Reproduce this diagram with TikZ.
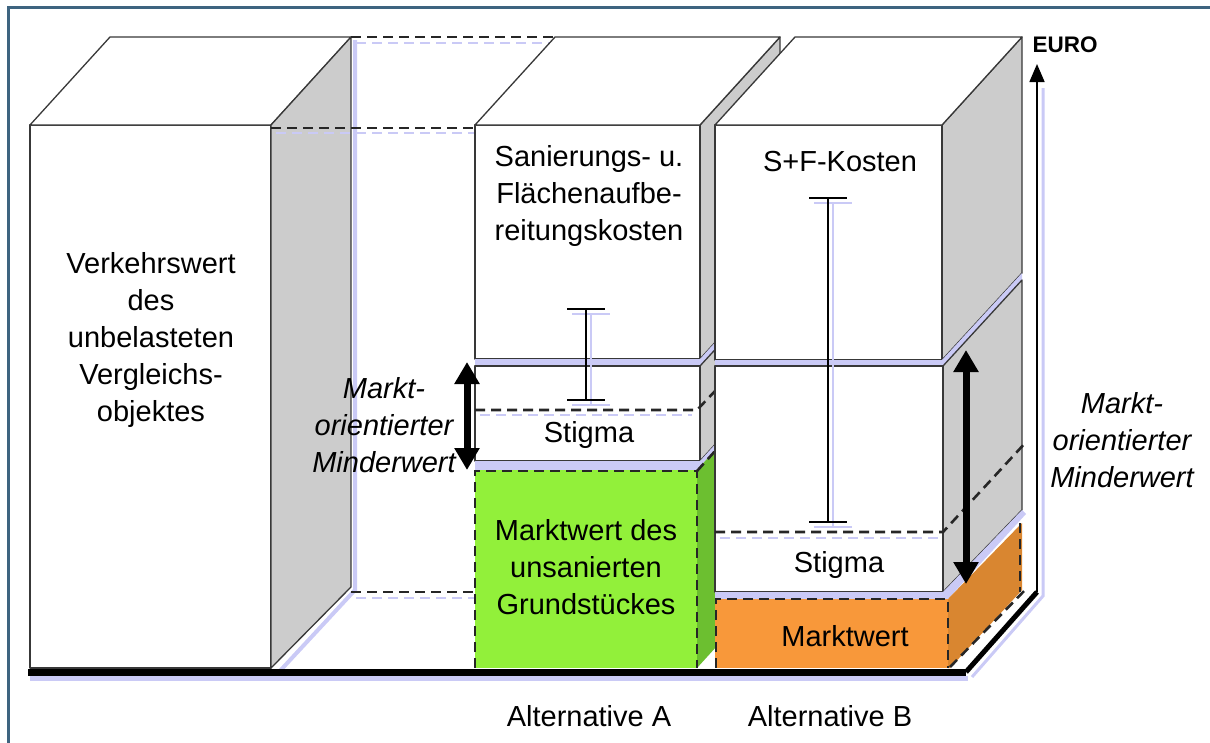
\documentclass[tikz,border=0pt]{standalone}
\usepackage{fontspec}
\setmainfont{Liberation Sans}
\usetikzlibrary{arrows.meta}
\definecolor{framec}{HTML}{3E6480}
\definecolor{sidec}{HTML}{CCCCCC}
\definecolor{lav}{HTML}{CACAF6}
\definecolor{grn}{HTML}{92F03A}
\definecolor{grnside}{HTML}{6CBF30}
\definecolor{org}{HTML}{F8983A}
\definecolor{orgside}{HTML}{D98630}
\definecolor{edgec}{HTML}{383838}
\begin{document}
\begin{tikzpicture}[x=1pt,y=-1pt,
  face/.style={draw=edgec,line width=1.3pt,line join=round},
  dsh/.style={draw=black!85,line width=2.6pt,dash pattern=on 10pt off 6pt},
  ghost/.style={draw=lav,line width=1.6pt,dash pattern=on 10pt off 6pt},
  lbl/.style={font=\fontsize{29}{37}\selectfont,align=center,inner sep=0pt},
  ilbl/.style={font=\fontsize{29}{37}\selectfont\itshape,align=center,inner sep=0pt},
  bigarrow/.style={line width=7pt,{Triangle[length=22pt,width=24pt]}-{Triangle[length=22pt,width=24pt]}},
  ibeam/.style={draw=black,line width=1.3pt},
  ibghost/.style={draw=lav,line width=1.3pt}]
\useasboundingbox (0,0) rectangle (1210,742);
% frame
\draw[framec,line width=3pt] (8,750) -- (8,7) -- (1220,7);

% ---------- left box ----------
\draw[lav,line width=4pt] (355,40) -- (355,590) -- (278,673);
\draw[face,fill=white] (30,125) rectangle (271,668);
\draw[face,fill=white] (30,125) -- (110,37) -- (351,37) -- (271,125) -- cycle;
\draw[face,fill=sidec] (271,125) -- (351,37) -- (351,587) -- (271,668) -- cycle;

% dashed guide lines
\draw[ghost] (356,43) -- (555,43);
\draw[dsh] (351,37) -- (555,37);
\draw[ghost] (276,133) -- (475,133);
\draw[dsh] (271,128) -- (475,128);
\draw[ghost] (356,598) -- (475,598);
\draw[dsh] (351,592) -- (475,592);

% ---------- Alternative A ----------
\draw[face,fill=sidec] (700,125) -- (780,37) -- (780,271) -- (700,359) -- cycle;
\draw[face,fill=white] (475,125) rectangle (700,359);
\draw[face,fill=white] (475,125) -- (555,37) -- (780,37) -- (700,125) -- cycle;
\fill[lav] (475,359) -- (700,359) -- (780,271) -- (780,279) -- (700,366) -- (475,366) -- cycle;
\draw[face,fill=sidec] (700,366) -- (780,279) -- (780,373) -- (700,461) -- cycle;
\draw[face,fill=white] (475,366) rectangle (700,461);
\fill[lav] (475,461) -- (700,461) -- (780,373) -- (780,382) -- (700,470) -- (475,470) -- cycle;
\fill[grnside] (697,470) -- (777,382) -- (777,580) -- (697,668) -- cycle;
\fill[grn] (475,470) rectangle (697,668);
\draw[dsh] (475,668) -- (475,471) -- (697,471) -- (697,668);
\draw[dsh] (697,471) -- (716,450);
\draw[ghost] (480,415) -- (692,415);
\draw[dsh] (475,410) -- (697,410) -- (716,390);
% I-beam A
\draw[ibghost] (591,314) -- (591,405) (572,314) -- (610,314) (572,405) -- (610,405);
\draw[ibeam] (586,309) -- (586,400) (567,309) -- (605,309) (567,400) -- (605,400);

% ---------- Alternative B ----------
\draw[face,fill=sidec] (942,125) -- (1022,37) -- (1022,273) -- (942,360) -- cycle;
\draw[face,fill=white] (715,125) rectangle (942,360);
\draw[face,fill=white] (715,125) -- (795,37) -- (1022,37) -- (942,125) -- cycle;
\fill[lav] (715,360) -- (942,360) -- (1022,273) -- (1022,280) -- (943,366) -- (715,366) -- cycle;
\draw[face,fill=sidec] (943,366) -- (1022,280) -- (1022,510) -- (943,592) -- cycle;
\draw[face,fill=white] (715,366) rectangle (943,592);
\fill[lav] (715,592) -- (943,592) -- (1022,510) -- (1026,514) -- (948,599) -- (715,599) -- cycle;
\fill[orgside] (948,599) -- (1022,523) -- (1022,590) -- (950,668) -- (948,668) -- cycle;
\fill[org] (715,599) rectangle (948,668);
\draw[dsh] (716,668) -- (716,599) -- (948,599) -- (948,668);
\draw[dsh] (1020,523) -- (1020,592);
\draw[dsh] (950,667) -- (1027,588);
\draw[ghost] (720,538) -- (940,538);
\draw[dsh] (715,532) -- (943,532) -- (1027,441);
% I-beam B
\draw[ibghost] (833,203) -- (833,527) (814,203) -- (852,203) (814,527) -- (852,527);
\draw[ibeam] (828,198) -- (828,522) (809,198) -- (847,198) (809,522) -- (847,522);

% ---------- axes ----------
\coordinate (axBot) at (1037,592);
\coordinate (axTop) at (1037,64);
\coordinate (diagEnd) at (966,672);
\coordinate (baseL) at (28,672);
\coordinate (baseR) at (966,672);
\draw[lav,line width=3pt] (1043,88) -- (1043,596) -- (972,677);
\draw[lav,line width=5pt] (30,678) -- (968,678);
\draw[line width=1.6pt,-{Triangle[length=18pt,width=15pt]}] (axBot) -- (axTop);
\draw[line width=5pt] (axBot) -- (diagEnd);
\draw[line width=7pt] (baseL) -- (baseR);

% ---------- thick double arrows ----------
\coordinate (aTop) at (467,362);
\coordinate (aBot) at (467,470);
\coordinate (bTop) at (966,350);
\coordinate (bBot) at (966,584);
\draw[bigarrow] (aTop) -- (aBot);
\draw[bigarrow] (bTop) -- (bBot);

% ---------- labels ----------
\node[lbl] (verk) at (151,340) {Verkehrswert\\des\\unbelasteten\\Vergleichs-\\objektes};
\node[lbl] (san) at (589,196) {Sanierungs- u.\\Flächenaufbe-\\reitungskosten};
\node[lbl] (sfk) at (840,162) {S+F-Kosten};
\node[lbl] (stigA) at (589,435) {Stigma};
\node[lbl] (stigB) at (839,565) {Stigma};
\node[lbl] (mwA) at (586,567) {Marktwert des\\unsanierten\\Grundstückes};
\node[lbl] (mwB) at (845,636) {Marktwert};
\node[lbl] (altA) at (589,716) {Alternative A};
\node[lbl] (altB) at (830,716) {Alternative B};
\node[font=\fontsize{22.5}{26}\selectfont\bfseries,inner sep=0pt] (euro) at (1065,45) {EURO};
\node[ilbl] (mindA) at (384,425) {Markt-\\orientierter\\Minderwert};
\node[ilbl] (mindB) at (1122,440) {Markt-\\orientierter\\Minderwert};
\end{tikzpicture}
\end{document}
